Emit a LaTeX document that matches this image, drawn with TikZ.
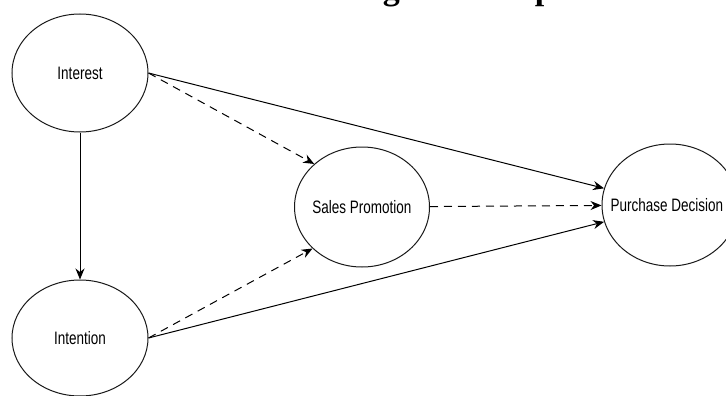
\documentclass[tikz,border=0pt]{standalone}
\usepackage{fontspec}
\usetikzlibrary{shapes.geometric,arrows.meta}
\newfontfamily\labelfont[FakeStretch=0.75]{Liberation Sans}
\newfontfamily\titlefont{Liberation Serif}
\tikzset{
  var/.style={ellipse,draw=black!90,line width=1pt,fill=white,inner sep=0pt},
  vartext/.style={font=\labelfont\fontsize{18}{20}\selectfont,text=black},
  solidarrow/.style={line width=1pt,-{Stealth[length=11pt,width=9pt]}},
  dasharrow/.style={line width=1pt,dash pattern=on 8pt off 6pt,-{Stealth[length=11pt,width=9pt]}}
}
\begin{document}
\begin{tikzpicture}[x=1pt,y=-1pt]
\clip (0,0) rectangle (726,396);
\node[anchor=base west,font=\titlefont\bfseries\fontsize{34}{40}\selectfont,inner sep=0pt] (title) at (290,-0.5) {Kerangka Konseptual};
\node[var,minimum width=136pt,minimum height=118pt,label={[vartext]center:Interest}] (interest) at (80,73) {};
\node[var,minimum width=136pt,minimum height=116pt,label={[vartext]center:Intention}] (intention) at (80,338) {};
\node[var,minimum width=135pt,minimum height=120pt,label={[vartext]center:Sales Promotion}] (sales) at (362,207) {};
\node[var,minimum width=136pt,minimum height=122pt,label={[vartext,xshift=-3pt]center:Purchase Decision}] (purchase) at (670,205) {};
\draw[solidarrow] (interest) -- (intention);
\draw[solidarrow] (interest.east) -- (purchase);
\draw[solidarrow] (intention.east) -- (purchase);
\draw[dasharrow] (interest.east) -- (sales.138);
\draw[dasharrow] (intention.east) -- (sales.220);
\draw[dasharrow] (sales) -- (purchase);
\end{tikzpicture}
\end{document}
